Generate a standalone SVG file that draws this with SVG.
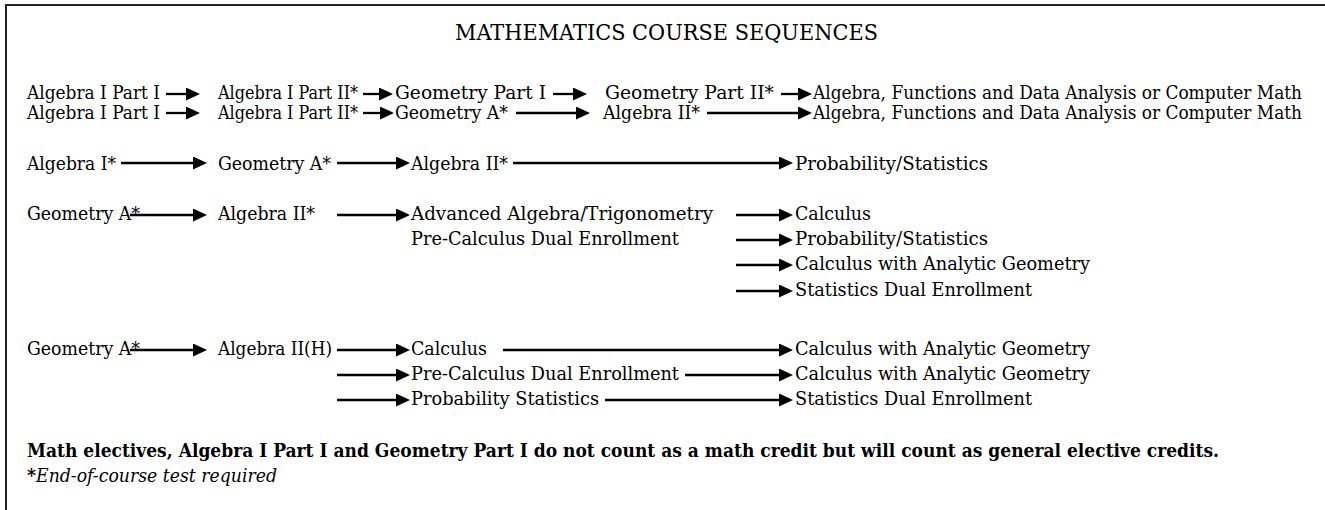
<svg xmlns="http://www.w3.org/2000/svg" width="1325" height="510" viewBox="0 0 1325 510">
<style>
text{font-family:"DejaVu Serif","Liberation Serif",serif;font-size:18.5px;fill:#000}
.title{font-size:21.5px}
.long{font-size:17.6px}
.bold{font-weight:bold}
.it{font-style:italic}
.c{stroke:#000;stroke-width:2.3;fill:none;marker-end:url(#ah)}
</style>
<defs>
<marker id="ah" markerUnits="userSpaceOnUse" markerWidth="15" markerHeight="13" refX="0" refY="6.5" orient="auto">
<path d="M0,0 L14,6.5 L0,13 z" fill="#000"/>
</marker>
</defs>
<rect width="1325" height="510" fill="#fff"/>
<path d="M6,510 V5 H1325" fill="none" stroke="#222" stroke-width="2"/>
<g id="title"><text class="title" x="455" y="40" textLength="423" lengthAdjust="spacingAndGlyphs">MATHEMATICS COURSE SEQUENCES</text></g>

<g id="connectors">
<path class="c" d="M166,94 H186"/>
<path class="c" d="M363,94 H379"/>
<path class="c" d="M553,94 H573"/>
<path class="c" d="M781,94 H798"/>
<path class="c" d="M166,113 H186"/>
<path class="c" d="M363,113 H380"/>
<path class="c" d="M516,113 H576"/>
<path class="c" d="M707,113 H798"/>
<path class="c" d="M121,163 H193"/>
<path class="c" d="M337,163 H396"/>
<path class="c" d="M513,163 H779"/>
<path class="c" d="M130,215 H193"/>
<path class="c" d="M337,215 H396"/>
<path class="c" d="M736,215 H779"/>
<path class="c" d="M736,240 H779"/>
<path class="c" d="M736,265 H779"/>
<path class="c" d="M736,291 H779"/>
<path class="c" d="M130,350 H193"/>
<path class="c" d="M337,350 H396"/>
<path class="c" d="M503,350 H779"/>
<path class="c" d="M337,375 H396"/>
<path class="c" d="M685,375 H779"/>
<path class="c" d="M337,400 H396"/>
<path class="c" d="M605,400 H779"/>
</g>

<g id="r1">
<g id="n1a"><text x="27" y="99" textLength="133" lengthAdjust="spacingAndGlyphs">Algebra I Part I</text></g>
<g id="n1b"><text x="218" y="99" textLength="140" lengthAdjust="spacingAndGlyphs">Algebra I Part II*</text></g>
<g id="n1c"><text x="395" y="99" textLength="151" lengthAdjust="spacingAndGlyphs">Geometry Part I</text></g>
<g id="n1d"><text x="605" y="99" textLength="169" lengthAdjust="spacingAndGlyphs">Geometry Part II*</text></g>
<g id="n1e"><text class="long" x="813" y="99" textLength="489" lengthAdjust="spacingAndGlyphs">Algebra, Functions and Data Analysis or Computer Math</text></g>
</g>
<g id="r2">
<g id="n2a"><text x="27" y="119" textLength="133" lengthAdjust="spacingAndGlyphs">Algebra I Part I</text></g>
<g id="n2b"><text x="218" y="119" textLength="140" lengthAdjust="spacingAndGlyphs">Algebra I Part II*</text></g>
<g id="n2c"><text x="395" y="119" textLength="113" lengthAdjust="spacingAndGlyphs">Geometry A*</text></g>
<g id="n2d"><text x="603" y="119" textLength="97" lengthAdjust="spacingAndGlyphs">Algebra II*</text></g>
<g id="n2e"><text class="long" x="813" y="119" textLength="489" lengthAdjust="spacingAndGlyphs">Algebra, Functions and Data Analysis or Computer Math</text></g>
</g>
<g id="r3">
<g id="n3a"><text x="27" y="170" textLength="89" lengthAdjust="spacingAndGlyphs">Algebra I*</text></g>
<g id="n3b"><text x="218" y="170" textLength="113" lengthAdjust="spacingAndGlyphs">Geometry A*</text></g>
<g id="n3c"><text x="411" y="170" textLength="97" lengthAdjust="spacingAndGlyphs">Algebra II*</text></g>
<g id="n3d"><text x="795" y="170" textLength="193" lengthAdjust="spacingAndGlyphs">Probability/Statistics</text></g>
</g>
<g id="r4">
<g id="n4a"><text x="27" y="220" textLength="113" lengthAdjust="spacingAndGlyphs">Geometry A*</text></g>
<g id="n4b"><text x="218" y="220" textLength="97" lengthAdjust="spacingAndGlyphs">Algebra II*</text></g>
<g id="n4c"><text x="411" y="220" textLength="302" lengthAdjust="spacingAndGlyphs">Advanced Algebra/Trigonometry</text>
<text x="411" y="245" textLength="268" lengthAdjust="spacingAndGlyphs">Pre-Calculus Dual Enrollment</text></g>
<g id="n4d"><text x="795" y="220" textLength="76" lengthAdjust="spacingAndGlyphs">Calculus</text></g>
<g id="n4e"><text x="795" y="245" textLength="193" lengthAdjust="spacingAndGlyphs">Probability/Statistics</text></g>
<g id="n4f"><text x="795" y="270" textLength="295" lengthAdjust="spacingAndGlyphs">Calculus with Analytic Geometry</text></g>
<g id="n4g"><text x="795" y="296" textLength="237" lengthAdjust="spacingAndGlyphs">Statistics Dual Enrollment</text></g>
</g>
<g id="r5">
<g id="n5a"><text x="27" y="355" textLength="113" lengthAdjust="spacingAndGlyphs">Geometry A*</text></g>
<g id="n5b"><text x="218" y="355" textLength="114" lengthAdjust="spacingAndGlyphs">Algebra II(H)</text></g>
<g id="n5c"><text x="411" y="355" textLength="76" lengthAdjust="spacingAndGlyphs">Calculus</text></g>
<g id="n5d"><text x="411" y="380" textLength="268" lengthAdjust="spacingAndGlyphs">Pre-Calculus Dual Enrollment</text></g>
<g id="n5e"><text x="411" y="405" textLength="188" lengthAdjust="spacingAndGlyphs">Probability Statistics</text></g>
<g id="n5f"><text x="795" y="355" textLength="295" lengthAdjust="spacingAndGlyphs">Calculus with Analytic Geometry</text></g>
<g id="n5g"><text x="795" y="380" textLength="295" lengthAdjust="spacingAndGlyphs">Calculus with Analytic Geometry</text></g>
<g id="n5h"><text x="795" y="405" textLength="237" lengthAdjust="spacingAndGlyphs">Statistics Dual Enrollment</text></g>
</g>
<g id="notes">
<text class="bold" x="27" y="457" textLength="1192" lengthAdjust="spacingAndGlyphs">Math electives, Algebra I Part I and Geometry Part I do not count as a math credit but will count as general elective credits.</text>
<text x="27" y="482" textLength="250" lengthAdjust="spacingAndGlyphs"><tspan class="bold">*</tspan><tspan class="it">End-of-course test required</tspan></text>
</g>
</svg>
